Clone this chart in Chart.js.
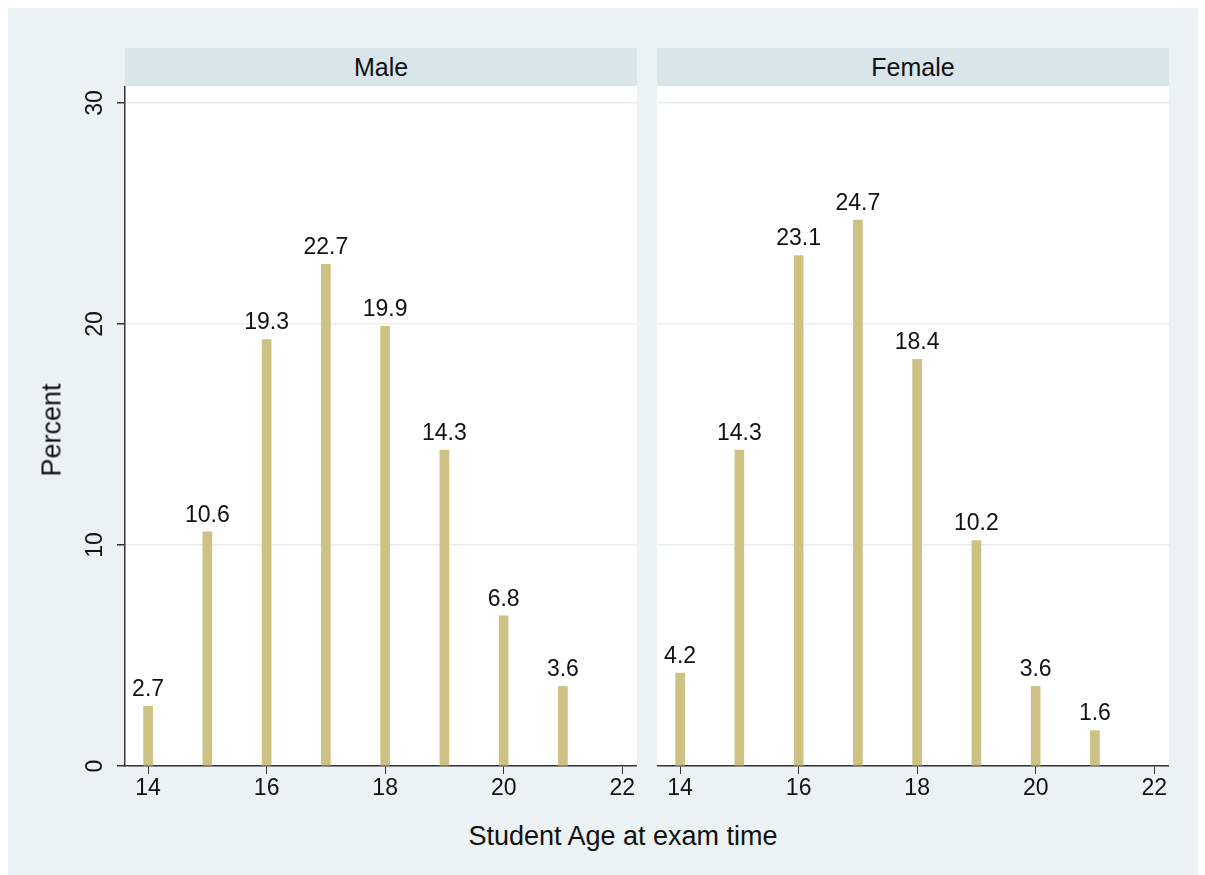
<!DOCTYPE html>
<html>
<head>
<meta charset="utf-8">
<script src="https://cdn.jsdelivr.net/npm/chart.js@4.4.0/dist/chart.umd.min.js"></script>
<style>
  body { margin: 0; background: #fff; font-family: "Liberation Sans", Arial, sans-serif; }
  #frame { position: absolute; left: 8px; top: 8px; width: 1190px; height: 867px; background: #eaf2f3; }
  .hdr { position: absolute; top: 48px; height: 38px; background: #d9e5ea; color: #111; font-size: 25px;
         text-align: center; line-height: 38px; }
  .plotbg { position: absolute; top: 86px; height: 680px; background: #fff; }
  canvas { position: absolute; }
  #ytitle { position: absolute; left: 52px; top: 430px; transform: translate(-50%, -50%) rotate(-90deg);
            font-size: 27px; color: #111; white-space: nowrap; }
  #xtitle { position: absolute; left: 623px; top: 836px; transform: translate(-50%, -50%);
            font-size: 27px; color: #111; white-space: nowrap; }
</style>
</head>
<body>
<div id="frame"></div>
<div class="plotbg" style="left:125px;width:512px"></div>
<div class="plotbg" style="left:657px;width:512px"></div>
<div class="hdr" style="left:125px;width:512px">Male</div>
<div class="hdr" style="left:657px;width:512px">Female</div>
<div style="position:absolute;left:0;top:0;width:1205px;height:875px">
  <canvas id="male" style="left:30px;top:86px"></canvas>
  <canvas id="female" style="left:657px;top:86px"></canvas>
</div>
<div id="ytitle">Percent</div>
<div id="xtitle">Student Age at exam time</div>
<script>
const ages = [14, 15, 16, 17, 18, 19, 20, 21];
const malePct = [2.7, 10.6, 19.3, 22.7, 19.9, 14.3, 6.8, 3.6];
const femalePct = [4.2, 14.3, 23.1, 24.7, 18.4, 10.2, 3.6, 1.6];
const xTicks = [14, 16, 18, 20, 22];
const yTicks = [0, 10, 20, 30];

const barColor = "#cdc283";
const font = '"Liberation Sans", Arial, sans-serif';

const labelPlugin = {
  id: "labels",
  afterDatasetsDraw(chart) {
    const ctx = chart.ctx;
    const meta = chart.getDatasetMeta(0);
    ctx.save();
    ctx.font = "23px " + font;
    ctx.fillStyle = "#111";
    ctx.textAlign = "center";
    ctx.textBaseline = "bottom";
    meta.data.forEach((bar, i) => {
      ctx.fillText(chart.data.datasets[0].data[i].y.toFixed(1), bar.x, bar.y - 5);
    });
    if (chart.options.showYLabels) {
      const y = chart.scales.y;
      yTicks.forEach(v => {
        ctx.save();
        ctx.translate(y.right - 18, y.getPixelForValue(v));
        ctx.rotate(-Math.PI / 2);
        ctx.textAlign = "center";
        ctx.textBaseline = "bottom";
        ctx.fillText(String(v), 0, 0);
        ctx.restore();
      });
    }
    ctx.restore();
  }
};

function makeChart(id, values, left) {
  const el = document.getElementById(id);
  el.width = left ? 607 : 512;
  el.height = 714;
  el.style.width = el.width + "px";
  el.style.height = "714px";
  return new Chart(el, {
    type: "bar",
    data: {
      datasets: [{
        data: ages.map((a, i) => ({ x: a, y: values[i] })),
        backgroundColor: barColor,
        barThickness: 9
      }]
    },
    options: {
      responsive: false,
      animation: false,
      showYLabels: left,
      layout: { padding: 0 },
      plugins: { legend: { display: false }, tooltip: { enabled: false } },
      scales: {
        x: {
          type: "linear",
          offset: false,
          min: 13.61, max: 22.25,
          afterBuildTicks: s => { s.ticks = xTicks.map(v => ({ value: v })); },
          afterFit: s => { s.height = 34; },
          grid: { offset: false, drawOnChartArea: false, tickLength: 8, tickColor: "#333" },
          border: { color: "#333", width: 1.5 },
          ticks: { color: "#111", font: { size: 23, family: font }, padding: 1, maxRotation: 0 }
        },
        y: {
          min: 0, max: 30.77,
          afterBuildTicks: s => { s.ticks = yTicks.map(v => ({ value: v })); },
          afterFit: s => { s.width = left ? 95 : 0; },
          grid: { color: "#e6eef0", lineWidth: 1.5, tickLength: left ? 8 : 0, tickColor: "#333" },
          border: { display: left, color: "#333", width: 1.5 },
          ticks: { display: false }
        }
      }
    },
    plugins: [labelPlugin]
  });
}

makeChart("male", malePct, true);
makeChart("female", femalePct, false);
</script>
</body>
</html>
